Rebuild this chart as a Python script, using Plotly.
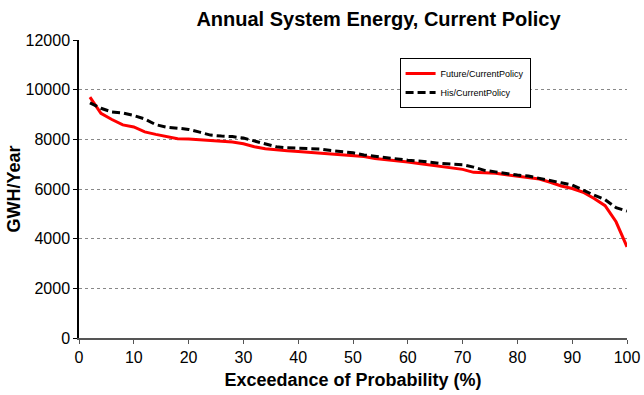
import plotly.graph_objects as go

x_pct = [2, 4, 6, 8, 10, 12, 14, 16, 18, 20, 22, 24, 26, 28, 30, 32, 34, 36, 38, 40,
         42, 44, 46, 48, 50, 52, 54, 56, 58, 60, 62, 64, 66, 68, 70, 72, 74, 76, 78, 80,
         82, 84, 86, 88, 90, 92, 94, 96, 98, 100]

future_current = [9700, 9050, 8800, 8580, 8500, 8300, 8200, 8120, 8020, 8010,
                  7980, 7930, 7920, 7890, 7820, 7700, 7620, 7570, 7540, 7510,
                  7480, 7450, 7420, 7400, 7370, 7310, 7230, 7190, 7140, 7090,
                  7030, 6970, 6900, 6830, 6790, 6670, 6650, 6630, 6570, 6520,
                  6460, 6400, 6270, 6120, 6020, 5870, 5620, 5330, 4680, 3670]

his_current = [9470, 9250, 9100, 9060, 8960, 8820, 8590, 8490, 8450, 8400,
               8290, 8170, 8130, 8110, 8050, 7930, 7800, 7700, 7660, 7640,
               7630, 7610, 7550, 7500, 7460, 7370, 7310, 7270, 7220, 7160,
               7130, 7070, 7030, 7000, 6980, 6880, 6750, 6690, 6610, 6560,
               6520, 6420, 6330, 6250, 6160, 5950, 5750, 5570, 5250, 5110]

x_ticks = [0, 10, 20, 30, 40, 50, 60, 70, 80, 90, 100]
y_ticks = [0, 2000, 4000, 6000, 8000, 10000, 12000]
y_tick_labels = ["0", "2000", "4000", "6000", "8000", "10000", "12000"]

FONT = "Liberation Sans, Arial, sans-serif"

fig = go.Figure()
fig.add_trace(go.Scatter(x=x_pct, y=future_current, mode="lines", name="Future/CurrentPolicy",
                         line=dict(color="#ff0000", width=3)))
fig.add_trace(go.Scatter(x=x_pct, y=his_current, mode="lines", name="His/CurrentPolicy",
                         line=dict(color="#000000", width=3, dash="8px,4px")))

fig.update_layout(
    width=644, height=395,
    margin=dict(l=79, r=17, t=40, b=57),
    paper_bgcolor="white", plot_bgcolor="white",
    font=dict(family=FONT, color="black"),
    title=dict(text="<b>Annual System Energy, Current Policy</b>", x=378.5 / 644, xanchor="center",
               y=1 - 19 / 395, yanchor="middle", font=dict(size=20, family=FONT)),
    showlegend=True,
    legend=dict(x=0.585, y=0.94, xanchor="left", yanchor="top",
                bgcolor="white", bordercolor="black", borderwidth=1,
                font=dict(size=9, family=FONT), tracegroupgap=0,
                itemwidth=30),
    xaxis=dict(range=[0, 100], tickvals=x_ticks, ticks="outside", ticklen=4,
               tickcolor="#555", showline=True, linecolor="#555", linewidth=1.5,
               showgrid=False, zeroline=False, tickfont=dict(size=16), automargin=False,
               title=dict(text="<b>Exceedance of Probability (%)</b>", font=dict(size=18), standoff=8)),
    yaxis=dict(range=[0, 12000], tickvals=y_ticks, ticktext=y_tick_labels, ticks="outside", ticklen=4,
               tickcolor="black", showline=True, linecolor="black", linewidth=1.5,
               showgrid=True, gridcolor="#888", griddash="dot", gridwidth=1,
               zeroline=False, tickfont=dict(size=16), automargin=False,
               title=dict(text="<b>GWH/Year</b>", font=dict(size=18), standoff=0)),
)

fig.write_html("out.html")
